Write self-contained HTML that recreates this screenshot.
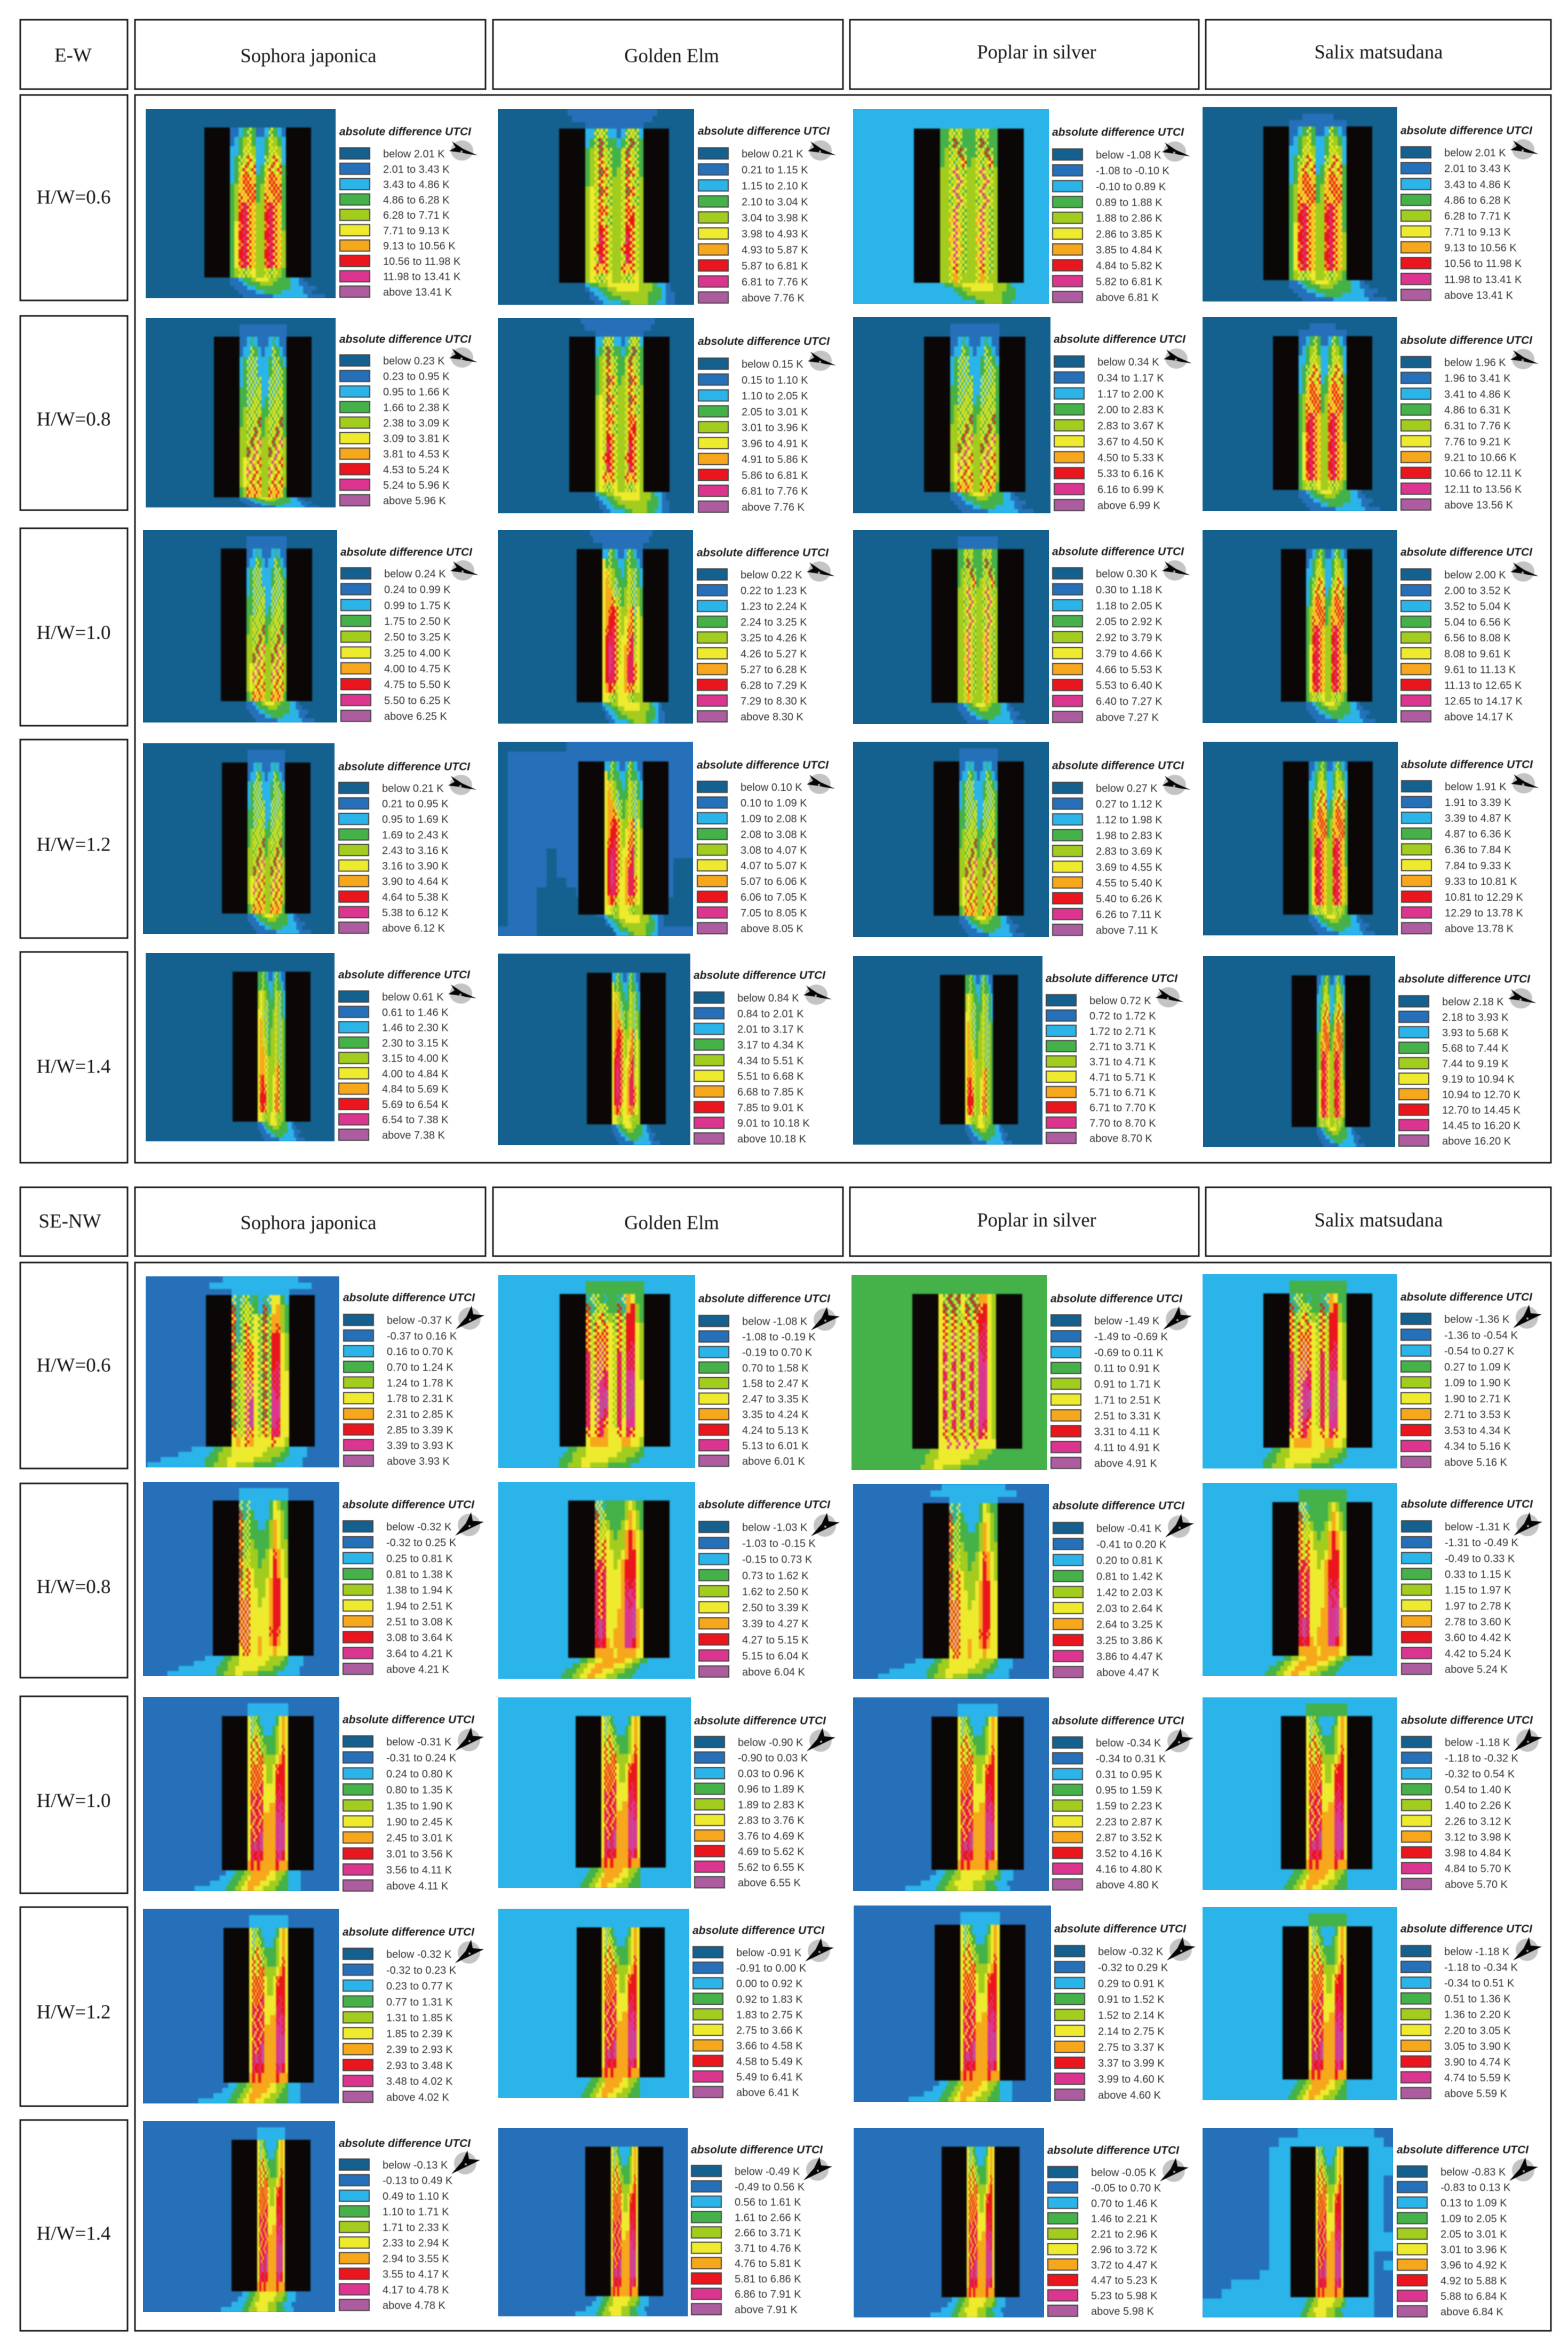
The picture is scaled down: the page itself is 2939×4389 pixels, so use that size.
<!DOCTYPE html>
<html lang="en">
<head>
<meta charset="utf-8">
<title>Absolute difference UTCI by street orientation, H/W ratio and tree species</title>
<style>
html,body{margin:0;padding:0;background:#fff;}
svg{display:block;}
.frame{fill:none;stroke:#1c1c1c;stroke-width:3;}
.hd{font-family:"Liberation Serif",serif;font-size:36.6px;fill:#151515;text-anchor:middle;dominant-baseline:central;}
.rw{font-family:"Liberation Serif",serif;font-size:37px;fill:#151515;text-anchor:middle;dominant-baseline:central;}
.lt{font-family:"Liberation Sans",sans-serif;font-size:21px;font-weight:bold;font-style:italic;fill:#1c1c1c;dominant-baseline:central;}
.ll{font-family:"Liberation Sans",sans-serif;font-size:20px;fill:#333;dominant-baseline:central;}
.soft{filter:blur(0.45px);}
.mapsoft{filter:blur(1.3px);}
</style>
</head>
<body>
<svg id="figure" xmlns="http://www.w3.org/2000/svg" width="2939" height="4389" viewBox="0 0 2939 4389">
<rect x="0" y="0" width="2939" height="4389" fill="#fff"/>
<g class="soft">
<rect class="frame" x="38" y="37" width="201" height="130"/>
<text class="rw" x="137" y="104">E-W</text>
<rect class="frame" x="253" y="37" width="657" height="130"/>
<text class="hd" x="578" y="104">Sophora japonica</text>
<rect class="frame" x="924" y="37" width="656" height="130"/>
<text class="hd" x="1259" y="104">Golden Elm</text>
<rect class="frame" x="1593" y="37" width="654" height="130"/>
<text class="hd" x="1943" y="97">Poplar in silver</text>
<rect class="frame" x="2260" y="37" width="647" height="130"/>
<text class="hd" x="2584" y="97">Salix matsudana</text>
<rect class="frame" x="253" y="178" width="2654" height="2001"/>
<rect class="frame" x="38" y="178" width="201" height="385"/>
<text class="rw" x="138" y="370">H/W=0.6</text>
<rect class="frame" x="38" y="592" width="201" height="364"/>
<text class="rw" x="138" y="786">H/W=0.8</text>
<rect class="frame" x="38" y="990" width="201" height="370"/>
<text class="rw" x="138" y="1186">H/W=1.0</text>
<rect class="frame" x="38" y="1386" width="201" height="372"/>
<text class="rw" x="138" y="1583">H/W=1.2</text>
<rect class="frame" x="38" y="1784" width="201" height="395"/>
<text class="rw" x="138" y="1999">H/W=1.4</text>
</g>
<g class="soft">
<rect class="frame" x="38" y="2225" width="201" height="129"/>
<text class="rw" x="131" y="2289">SE-NW</text>
<rect class="frame" x="253" y="2225" width="657" height="129"/>
<text class="hd" x="578" y="2291">Sophora japonica</text>
<rect class="frame" x="924" y="2225" width="656" height="129"/>
<text class="hd" x="1259" y="2291">Golden Elm</text>
<rect class="frame" x="1593" y="2225" width="654" height="129"/>
<text class="hd" x="1943" y="2286">Poplar in silver</text>
<rect class="frame" x="2260" y="2225" width="647" height="129"/>
<text class="hd" x="2584" y="2286">Salix matsudana</text>
<rect class="frame" x="253" y="2366" width="2654" height="2002"/>
<rect class="frame" x="38" y="2366" width="201" height="386"/>
<text class="rw" x="138" y="2559">H/W=0.6</text>
<rect class="frame" x="38" y="2780" width="201" height="364"/>
<text class="rw" x="138" y="2974">H/W=0.8</text>
<rect class="frame" x="38" y="3179" width="201" height="369"/>
<text class="rw" x="138" y="3375">H/W=1.0</text>
<rect class="frame" x="38" y="3574" width="201" height="373"/>
<text class="rw" x="138" y="3771">H/W=1.2</text>
<rect class="frame" x="38" y="3973" width="201" height="395"/>
<text class="rw" x="138" y="4186">H/W=1.4</text>
</g>
<g id="panels"></g>
</svg>
<script>
// ---- legend palette (ten classes) ----
const levelColors = ['#14608f','#2570b8','#2ab4ea','#44b248','#a2cc1e','#eeea2e','#f7a71b','#ea151d','#dc3590','#ad5ca0'];
// two-level textures seen in the tree rows (pairs of class indices)
const mixes = {a:[5,7],b:[3,5],c:[2,3],d:[7,8],e:[5,6],f:[4,5],g:[2,5],h:[6,7],i:[8,9],j:[3,7],k:[5,8]};

// ---- legend class limits, one row per panel (K) ----
const ewThresholds = [
[2.01,3.43,4.86,6.28,7.71,9.13,10.56,11.98,13.41],
[0.21,1.15,2.10,3.04,3.98,4.93,5.87,6.81,7.76],
[-1.08,-0.10,0.89,1.88,2.86,3.85,4.84,5.82,6.81],
[2.01,3.43,4.86,6.28,7.71,9.13,10.56,11.98,13.41],
[0.23,0.95,1.66,2.38,3.09,3.81,4.53,5.24,5.96],
[0.15,1.10,2.05,3.01,3.96,4.91,5.86,6.81,7.76],
[0.34,1.17,2.00,2.83,3.67,4.50,5.33,6.16,6.99],
[1.96,3.41,4.86,6.31,7.76,9.21,10.66,12.11,13.56],
[0.24,0.99,1.75,2.50,3.25,4.00,4.75,5.50,6.25],
[0.22,1.23,2.24,3.25,4.26,5.27,6.28,7.29,8.30],
[0.30,1.18,2.05,2.92,3.79,4.66,5.53,6.40,7.27],
[2.00,3.52,5.04,6.56,8.08,9.61,11.13,12.65,14.17],
[0.21,0.95,1.69,2.43,3.16,3.90,4.64,5.38,6.12],
[0.10,1.09,2.08,3.08,4.07,5.07,6.06,7.05,8.05],
[0.27,1.12,1.98,2.83,3.69,4.55,5.40,6.26,7.11],
[1.91,3.39,4.87,6.36,7.84,9.33,10.81,12.29,13.78],
[0.61,1.46,2.30,3.15,4.00,4.84,5.69,6.54,7.38],
[0.84,2.01,3.17,4.34,5.51,6.68,7.85,9.01,10.18],
[0.72,1.72,2.71,3.71,4.71,5.71,6.71,7.70,8.70],
[2.18,3.93,5.68,7.44,9.19,10.94,12.70,14.45,16.20]
];
const seThresholds = [
[-0.37,0.16,0.70,1.24,1.78,2.31,2.85,3.39,3.93],
[-1.08,-0.19,0.70,1.58,2.47,3.35,4.24,5.13,6.01],
[-1.49,-0.69,0.11,0.91,1.71,2.51,3.31,4.11,4.91],
[-1.36,-0.54,0.27,1.09,1.90,2.71,3.53,4.34,5.16],
[-0.32,0.25,0.81,1.38,1.94,2.51,3.08,3.64,4.21],
[-1.03,-0.15,0.73,1.62,2.50,3.39,4.27,5.15,6.04],
[-0.41,0.20,0.81,1.42,2.03,2.64,3.25,3.86,4.47],
[-1.31,-0.49,0.33,1.15,1.97,2.78,3.60,4.42,5.24],
[-0.31,0.24,0.80,1.35,1.90,2.45,3.01,3.56,4.11],
[-0.90,0.03,0.96,1.89,2.83,3.76,4.69,5.62,6.55],
[-0.34,0.31,0.95,1.59,2.23,2.87,3.52,4.16,4.80],
[-1.18,-0.32,0.54,1.40,2.26,3.12,3.98,4.84,5.70],
[-0.32,0.23,0.77,1.31,1.85,2.39,2.93,3.48,4.02],
[-0.91,0.00,0.92,1.83,2.75,3.66,4.58,5.49,6.41],
[-0.32,0.29,0.91,1.52,2.14,2.75,3.37,3.99,4.60],
[-1.18,-0.34,0.51,1.36,2.20,3.05,3.90,4.74,5.59],
[-0.13,0.49,1.10,1.71,2.33,2.94,3.55,4.17,4.78],
[-0.49,0.56,1.61,2.66,3.71,4.76,5.81,6.86,7.91],
[-0.05,0.70,1.46,2.21,2.96,3.72,4.47,5.23,5.98],
[-0.83,0.13,1.09,2.05,3.01,3.96,4.92,5.88,6.84]
];

// ---- class index filling each map's surroundings ----
const ewBackground = [0,0,2,0, 0,0,0,0, 0,0,0,0, 0,1,0,0, 0,0,0,0];
const seBackground = [1,2,3,2, 1,2,1,2, 1,2,1,2, 1,2,1,2, 1,1,1,1];

// ---- canyon heat grids: class per cell ----
const canyonGrids = {
ewHot:["1123b3112b321","1234f3223f432","223ff4223ff42","23bfaf22bfaf2","23fafa23fafa3","23ehae33ehae3","34eaha34eaha3","34aeah34aeah3","34hdae44hdae3","347dae447dae3","35hdae44hdae3","357dae447dae4","35hdae44hdae4","357dae447dae4","35hdae44hdae4","34fbf544fbf43"],
ewWarm:["22bfb2212bfb2","23bjb3323bjb3","34fjfb33fjfb3","34fafb33fafb3","34fjaf34fjaf3","34fafb44fafb4","45fjaf44fjaf4","45fafb44fafb4","45fhaf44fhaf4","45fafb44fa7f4","45f7af44f7af4","45fdaf44fdaf4","45a7af44a7af4","45fdaf44fdaf4","45aeaf44aeaf4","45fbf544fbf54"],
ewCool:["33fbf333fbf33","33bjb333bjb33","34bfjb33bfjb3","34fbfa34fbfa3","44fkfb44fkfb4","44bfkf44bfkf4","44fkfb44fkfb4","44bfkf44bfkf4","44fkfb44fkfb4","44ekfb44ekfb4","44fkeb44fkeb4","44ekfb44ekfb4","44fkeb44fkeb4","44ekfb44ekfb4","44fafb44fafb4","44f6f444f6f44"],
ewCooler:["112c21112c211","122b32122b321","23gbg2223gb32","23bgb2223bgb3","23gbgb22gbgb3","33bgbf22bgbf3","33gbfb23gbfb3","34bfbf33bfbf3","34fbfj34fbfj3","44bfjf34bfjf3","44fjfk44fjfk4","44jfkf44jfkf4","45fkfa44fkfa4","45kfaf44kfaf4","45fafa44fafa4","34aeae44aeae3"],
ewLeftHot:["22b32112b3211","53b33223b3321","5ef43323f4g32","56f4g333fbg32","566fgb34fbg43","566afb34fbg43","56h7af44eag53","5677af45eab54","5h7daf45aab54","57ddaf55adb54","578daf56adf54","578daf56ddf54","578da556dda54","57dda556dda54","567af556aaf54","55fb4555fb444"],
ewLeftMild:["33b32112b3211","33b33223b3321","45f43323f4g32","45f4g333fbg32","55fgb334fbg32","56f4g334fbg43","56f4g344fbg43","56ffb344fbg43","566f4344fbg43","566ef444f4g43","566ef444eab43","5h7ef445eab43","5h7af445eab43","5777f445aab43","5h7af445aaf43","55fb4455fb443"],
seZig:["gcgbc32cg5532","jcbfb32jc5643","acbfb5bjb6643","jcbab5bab6h43","acbaf5bjb7754","jbbaa5bab7754","abfah5bjb7754","jbfaa5bab7d54","abfka5bjbdd55","jbfkk5babdd55","abfkk5bjb8d55","jbfki5bab8855","abfki5bjb8855","jbfki5bab8d55","affka5fafdd55","565a65555a554"],
seZigHot:["cgb3c33cg6533","jcbfb33jc6743","abfab4bab7743","abafa5baf7754","afaaa5faf7754","afaka5faf7d54","dfaka5fdfdd54","dfkka5fdfdd54","dfkkd5fdf8854","dfk8d5fdf8i55","dfk8i5fdf8i55","d5kii5fdfii55","d5kid5fdfi855","d5kda5fd58855","a5ad655a5da55","5666655566554"],
seDense:["5gjgj5gjg6654","5jbjb5jbja754","5ababfaba7754","5afafafaf7d54","5afkfafkfdd54","5kfafkfafdd54","5dfkfdfkf8d54","5kfdfkfdf8854","5dfkfdfkf8854","5kfdfkfdf8854","5dfkfdfkf8854","5kfdfkfdf8854","5dfkfdfkf8854","5kfdfkfdf8d54","5afafafafda54","55k5k5k5k5555"],
seOpen:["gcg2222235433","jcb3222235543","abb3322346543","jbb3333346543","abb4333346544","jbf443345h654","aff4434457654","jfa5444457654","afa5444567755","kfa5544567755","aka5545567755","kak5555567755","aka5555567755","kak55555h7h55","aka5565567655","5aa5565556555"],
seOpenHot:["ggc3333345433","jgb3333346543","abf4333456543","aff5434467654","afa5444467654","afa5544567754","ada5545677754","dad5555677754","dad55556d7d54","dad55556d8d54","dad555568d854","dad5556688i65","did5556688i65","did5566688i65","7d76566688765","6666656666655"],
seNarrow:["5gb3222223565","5gfb322234565","5bafb33334565","5afab433345h5","5afah44445675","5ahaa5445h775","5haha54457775","5ahad55557d75","5dada5555dd75","5adad5566d8d5","5dada666688d5","5adad66668i85","5dadi66668i85","5didi66668i85","5d7d76666d875","6767666667666"]
};

// ---- plume south of the canyon; pad = cells left of the canyon edge ----
const southGrids = {
ewA:{pad:0,rows:["11233455544333221","111233344433332211",".1112233333333222111","..11112233332222211","...1111111222222221111"]},
ewB:{pad:0,rows:["2334455555554443221","1223344555554443321",".1223344444444333211",".1122333444444333211","..112222334444332211"]},
seWide:{pad:26,rows:[".................22222334455555555444432222","..............22222223344455555554444332222","..........22222222223334455555544443332222",".......22222222222223344455444433333222222"]},
seHot:{pad:26,rows:["...................22233445566666655443322","................22223344556666655544332222","............222222333445566655544433322222",".........22222222333445566555444333322222"]},
seNarrow:{pad:26,rows:["...................2223334455555555444432222",".................222233344455555554444332222","..............2222223334455555544443332222",".........2222222222333444455555444433332222"]},
seNarrowHot:{pad:26,rows:["...................222333446666665544432222",".................22223334456666655544332222","..............22222233344566665554443332222",".........2222222222333445566555444433332222"]}
};

// ---- plume north of the canyon; n = one class above the surroundings ----
const northGrids = {
none:{pad:0,rows:["","",""]},
small:{pad:0,rows:["","...nnnnnnn","nnnnnnnnnnnnn"]},
cap:{pad:0,rows:["","nnnnnnnnnnnnn","nnnnnnnnnnnnn"]},
wide:{pad:4,rows:["nnnnnnnnnnnnnnnnnnnn",".nnnnnnnnnnnnnnnnnn","....nnnnnnnnnnnnn"]},
crown:{pad:5,rows:["...nnnnnnnnnnnnnnnnn","nnnnnnnnnnnnnnnnnnnnnnn",".....nnnnnnnnnnnnn"]}
};

// ---- whole-map patches for the two panels with large background regions ----
const darkPatches = ["0000000.............","0...................","0...................","0...................","0...................","0...................","0...................","0...................","0...................","0...................","0...................","0....0..............","0....0............00","0....0............00","0....00...........00","0...0000..........00","0...00000........000","0...000000.......000","0...0000000......000","....00000000........"];
const coolHalo = ["..........22222222..","........22222222222.",".......2222222222222",".......2222222222222",".......2222222222222",".......222222222222.",".......222222222222.",".......222222222222.",".......222222222222.",".......222222222222.",".......222222222222.",".......2222222222222",".......2222222222222",".......22222222222..",".......22222222222.2","......222222222222..","...222222222222222..","..2222222222222222..","222222222222222222..","222222222222222222.."];

// ---- which grid each panel shows (E-W rows then SE-NW rows) ----
const panelCanyons = [
'ewHot','ewWarm','ewCool','ewHot',
'ewCooler','ewWarm','ewCooler','ewHot',
'ewCooler','ewLeftHot','ewCool','ewHot',
'ewCooler','ewLeftHot','ewCooler','ewHot',
'ewLeftMild','ewLeftHot','ewLeftMild','ewHot',
'seZig','seZigHot','seDense','seZigHot',
'seOpen','seOpenHot','seOpen','seOpenHot',
'seNarrow','seNarrow','seNarrow','seNarrow',
'seNarrow','seNarrow','seNarrow','seNarrow',
'seNarrow','seNarrow','seNarrow','seNarrow'
];
const panelSouths = [
'ewA','ewB','ewB','ewA',
'ewA','ewB','ewA','ewA',
'ewA','ewB','ewA','ewA',
'ewA','ewB','ewA','ewA',
'ewA','ewA','ewA','ewA',
'seWide','seWide','seWide','seWide',
'seWide','seHot','seWide','seHot',
'seNarrowHot','seNarrowHot','seNarrow','seNarrowHot',
'seNarrowHot','seNarrowHot','seNarrowHot','seNarrowHot',
'seNarrow','seNarrow','seNarrow','seNarrow'
];
const panelNorths = [
'none','wide','none','small',
'cap','wide','cap','small',
'cap','wide','cap','none',
'cap','none','cap','none',
'none','none','none','none',
'crown','cap','none','cap',
'cap','none','crown','cap',
'cap','none','cap','cap',
'cap','none','cap','cap',
'cap','none','none','none'
];

// ---- page layout: map x0,x1,y0,y1; building edges; building y0,y1; legend x, title y, first and last swatch y ----
const layout = [
[273,629,204,559,383,431,536,583,239,520,636,247,288,547],
[933,1301,204,571,1048,1097,1206,1254,241,530,1308,246,288,558],
[1599,1966,204,570,1713,1762,1870,1919,241,530,1972,248,290,557],
[2254,2619,201,565,2368,2416,2524,2572,237,525,2625,245,286,553],
[273,629,596,951,401,449,537,584,631,932,636,636,676,938],
[933,1301,596,962,1067,1116,1206,1255,631,922,1308,640,682,950],
[1599,1969,594,962,1732,1781,1873,1922,631,922,1975,636,678,947],
[2254,2619,594,958,2386,2434,2524,2572,630,918,2625,638,679,946],
[268,632,993,1354,414,462,537,585,1028,1314,638,1035,1075,1342],
[933,1299,993,1356,1081,1129,1205,1253,1029,1316,1306,1036,1077,1343],
[1599,1966,993,1357,1746,1795,1870,1919,1029,1317,1972,1034,1075,1344],
[2254,2619,993,1355,2401,2448,2525,2572,1029,1315,2625,1035,1077,1343],
[268,627,1393,1750,416,464,534,582,1429,1712,634,1437,1477,1739],
[933,1299,1390,1754,1084,1133,1205,1253,1427,1714,1306,1434,1475,1740],
[1599,1966,1390,1756,1750,1798,1870,1919,1427,1716,1972,1435,1477,1743],
[2255,2620,1390,1753,2405,2453,2526,2573,1427,1714,2626,1433,1474,1740],
[273,627,1786,2139,436,483,535,582,1821,2102,634,1827,1868,2127],
[933,1294,1787,2146,1100,1147,1200,1248,1823,2107,1300,1828,1870,2134],
[1599,1954,1792,2145,1762,1809,1861,1908,1827,2107,1960,1834,1875,2133],
[2255,2615,1792,2150,2421,2468,2521,2568,1828,2112,2621,1835,1877,2138],
[273,636,2392,2750,386,434,542,590,2427,2711,643,2432,2474,2738],
[934,1303,2389,2751,1049,1098,1207,1256,2425,2711,1309,2434,2476,2738],
[1596,1962,2389,2755,1710,1759,1867,1916,2425,2715,1969,2434,2475,2742],
[2254,2619,2388,2752,2368,2417,2524,2572,2424,2713,2625,2431,2472,2740],
[268,636,2777,3141,399,448,540,588,2812,3103,642,2820,2861,3128],
[934,1303,2777,3146,1065,1115,1206,1255,2812,3107,1309,2820,2862,3133],
[1599,1966,2781,3146,1730,1779,1870,1919,2817,3108,1973,2822,2864,3134],
[2254,2619,2779,3141,2385,2434,2524,2572,2815,3103,2626,2819,2861,3128],
[268,636,3180,3544,416,464,540,588,3216,3505,642,3223,3264,3534],
[934,1295,3181,3538,1079,1127,1200,1248,3216,3500,1301,3225,3265,3528],
[1599,1966,3181,3544,1746,1795,1870,1919,3217,3504,1972,3225,3266,3532],
[2254,2619,3181,3542,2401,2448,2525,2572,3216,3503,2626,3224,3265,3531],
[268,635,3577,3942,419,467,540,588,3613,3903,642,3621,3662,3930],
[934,1292,3577,3932,1081,1128,1199,1246,3612,3893,1298,3618,3659,3921],
[1600,1970,3571,3939,1752,1800,1874,1922,3607,3899,1976,3615,3657,3926],
[2254,2619,3574,3936,2404,2453,2524,2572,3610,3897,2625,3615,3657,3923],
[268,628,3975,4333,434,482,534,582,4010,4294,635,4017,4057,4320],
[934,1289,3988,4341,1097,1145,1196,1243,4023,4303,1295,4029,4069,4328],
[1600,1957,3988,4343,1765,1812,1864,1911,4023,4305,1963,4030,4071,4331],
[2254,2611,3988,4343,2419,2466,2518,2565,4023,4305,2618,4029,4070,4332]
];

const NS = 'http://www.w3.org/2000/svg';
const root = document.getElementById('panels');
const allThresholds = ewThresholds.concat(seThresholds);
const allBackgrounds = ewBackground.concat(seBackground);

function make(tag, parent, name) {
  const el = document.createElementNS(NS, tag);
  
  
  parent.appendChild(el);
  return el;
}

function levelAt(ch, sx, sy, bg, clamp) {
  if (ch === undefined || ch === '.') return -1;
  if (ch === 'n') return bg + 1;
  let lev;
  if (mixes[ch]) lev = mixes[ch][(sx + sy) % 2];
  else lev = +ch;
  if (clamp && lev <= bg) return -1;
  return lev;
}

function drawGrid(parent, rows, x0, y0, cw, ch, subX, subY, bg, clamp, name) {
  const sw = cw / subX, sh = ch / subY;
  rows.forEach(function (row, r) {
    for (let sr = 0; sr < subY; sr++) {
      let runStart = -1, runLev = -1;
      const total = row.length * subX;
      for (let s = 0; s <= total; s++) {
        const c = Math.floor(s / subX);
        const lev = s < total ? levelAt(row[c], s, r * subY + sr, bg, clamp) : -1;
        if (lev !== runLev) {
          if (runLev >= 0) {
            const cell = make('rect', parent, name);
            cell.setAttribute('x', (x0 + runStart * sw).toFixed(1));
            cell.setAttribute('y', (y0 + (r * subY + sr) * sh).toFixed(1));
            cell.setAttribute('width', ((s - runStart) * sw + 0.4).toFixed(1));
            cell.setAttribute('height', (sh + 0.4).toFixed(1));
            cell.setAttribute('fill', levelColors[runLev]);
          }
          runStart = s;
          runLev = lev;
        }
      }
    }
  });
}

function legendLabels(t) {
  const f = function (v) { return v.toFixed(2); };
  const out = ['below ' + f(t[0]) + ' K'];
  for (let i = 0; i < t.length - 1; i++) out.push(f(t[i]) + ' to ' + f(t[i + 1]) + ' K');
  out.push('above ' + f(t[t.length - 1]) + ' K');
  return out;
}

function drawCompass(parent, cx, cy, isEW) {
  const g = make('g', parent, 'wind-compass');
  g.setAttribute('transform', 'translate(' + cx + ',' + cy + ')');
  const disc = make('ellipse', g, 'compass-disc');
  disc.setAttribute('rx', 21);
  disc.setAttribute('ry', isEW ? 19 : 21);
  disc.setAttribute('fill', '#c4c4c4');
  const arrow = make('polygon', g, 'compass-arrow');
  arrow.setAttribute('points', isEW ? '-19,-17 2,-3 29,9 8,6 0,4 -24,1 -12,-6' : '4,-24 7,-8 28,-6 -26,20 -6,-3');
  arrow.setAttribute('fill', '#050505');
  const dot = make('circle', g, 'compass-hub');
  dot.setAttribute('cx', isEW ? -1 : 1);
  dot.setAttribute('cy', 2);
  dot.setAttribute('r', 2);
  dot.setAttribute('fill', '#aaa');
}

layout.forEach(function (b, i) {
  const mx0 = b[0], mx1 = b[1], my0 = b[2], my1 = b[3];
  const l0 = b[4], l1 = b[5], r0 = b[6], r1 = b[7], by0 = b[8], by1 = b[9];
  const lx = b[10], ty = b[11], s0 = b[12], s9 = b[13];
  const bg = allBackgrounds[i];
  const isEW = i < 20;
  const panel = make('g', root, 'utci-panel');

  const clip = make('clipPath', panel, 'map-clip');
  clip.setAttribute('id', 'mapclip' + i);
  const clipRect = make('rect', clip, 'map-clip-area');
  clipRect.setAttribute('x', mx0);
  clipRect.setAttribute('y', my0);
  clipRect.setAttribute('width', mx1 - mx0);
  clipRect.setAttribute('height', my1 - my0);

  const map = make('g', panel, 'utci-map');
  map.setAttribute('clip-path', 'url(#mapclip' + i + ')');
  map.setAttribute('class', 'mapsoft');
  const base = make('rect', map, 'map-background');
  base.setAttribute('x', mx0 - 6);
  base.setAttribute('y', my0 - 6);
  base.setAttribute('width', mx1 - mx0 + 12);
  base.setAttribute('height', my1 - my0 + 12);
  base.setAttribute('fill', levelColors[bg]);

  const patch = i === 13 ? darkPatches : (i === 39 ? coolHalo : null);
  if (patch) drawGrid(map, patch, mx0, my0, (mx1 - mx0) / 20, (my1 - my0) / 20, 1, 1, bg, false, 'background-patch-cell');

  const cw = (r0 - l1) / 13;
  const north = northGrids[panelNorths[i]];
  drawGrid(map, north.rows, l1 - north.pad * cw, my0, cw, (by0 - my0) / north.rows.length, 1, 1, bg, true, 'north-plume-cell');

  const south = southGrids[panelSouths[i]];
  drawGrid(map, south.rows, l1 - south.pad * cw, by1, cw, (my1 - by1) / south.rows.length, 1, 1, bg, true, 'south-plume-cell');

  const canyon = canyonGrids[panelCanyons[i]];
  drawGrid(map, canyon, l1, by0, cw, (by1 - by0) / canyon.length, 2, 3, bg, true, 'canyon-heat-cell');

  const leftB = make('rect', map, 'building-left');
  leftB.setAttribute('x', l0);
  leftB.setAttribute('y', by0);
  leftB.setAttribute('width', l1 - l0);
  leftB.setAttribute('height', by1 - by0);
  leftB.setAttribute('fill', '#0a0706');
  const rightB = make('rect', map, 'building-right');
  rightB.setAttribute('x', r0);
  rightB.setAttribute('y', by0);
  rightB.setAttribute('width', r1 - r0);
  rightB.setAttribute('height', by1 - by0);
  rightB.setAttribute('fill', '#0a0706');

  const legend = make('g', panel, 'legend');
  legend.setAttribute('class', 'soft');
  const title = make('text', legend, 'legend-title');
  title.setAttribute('class', 'lt');
  title.setAttribute('x', lx);
  title.setAttribute('y', ty);
  title.textContent = 'absolute difference UTCI';

  const labels = legendLabels(allThresholds[i]);
  labels.forEach(function (txt, k) {
    const cy = s0 + (s9 - s0) * k / 9;
    const sw = make('rect', legend, 'legend-swatch');
    sw.setAttribute('x', lx + 1);
    sw.setAttribute('y', cy - 11);
    sw.setAttribute('width', 56);
    sw.setAttribute('height', 21);
    sw.setAttribute('fill', levelColors[k]);
    sw.setAttribute('stroke', '#444');
    sw.setAttribute('stroke-width', 2);
    const t = make('text', legend, 'legend-entry');
    t.setAttribute('class', 'll');
    t.setAttribute('x', lx + 82);
    t.setAttribute('y', cy + 1);
    t.textContent = txt;
  });

  drawCompass(legend, lx + (isEW ? 230 : 237), s0 + (isEW ? -6 : -3), isEW);
});
</script>
</body>
</html>
